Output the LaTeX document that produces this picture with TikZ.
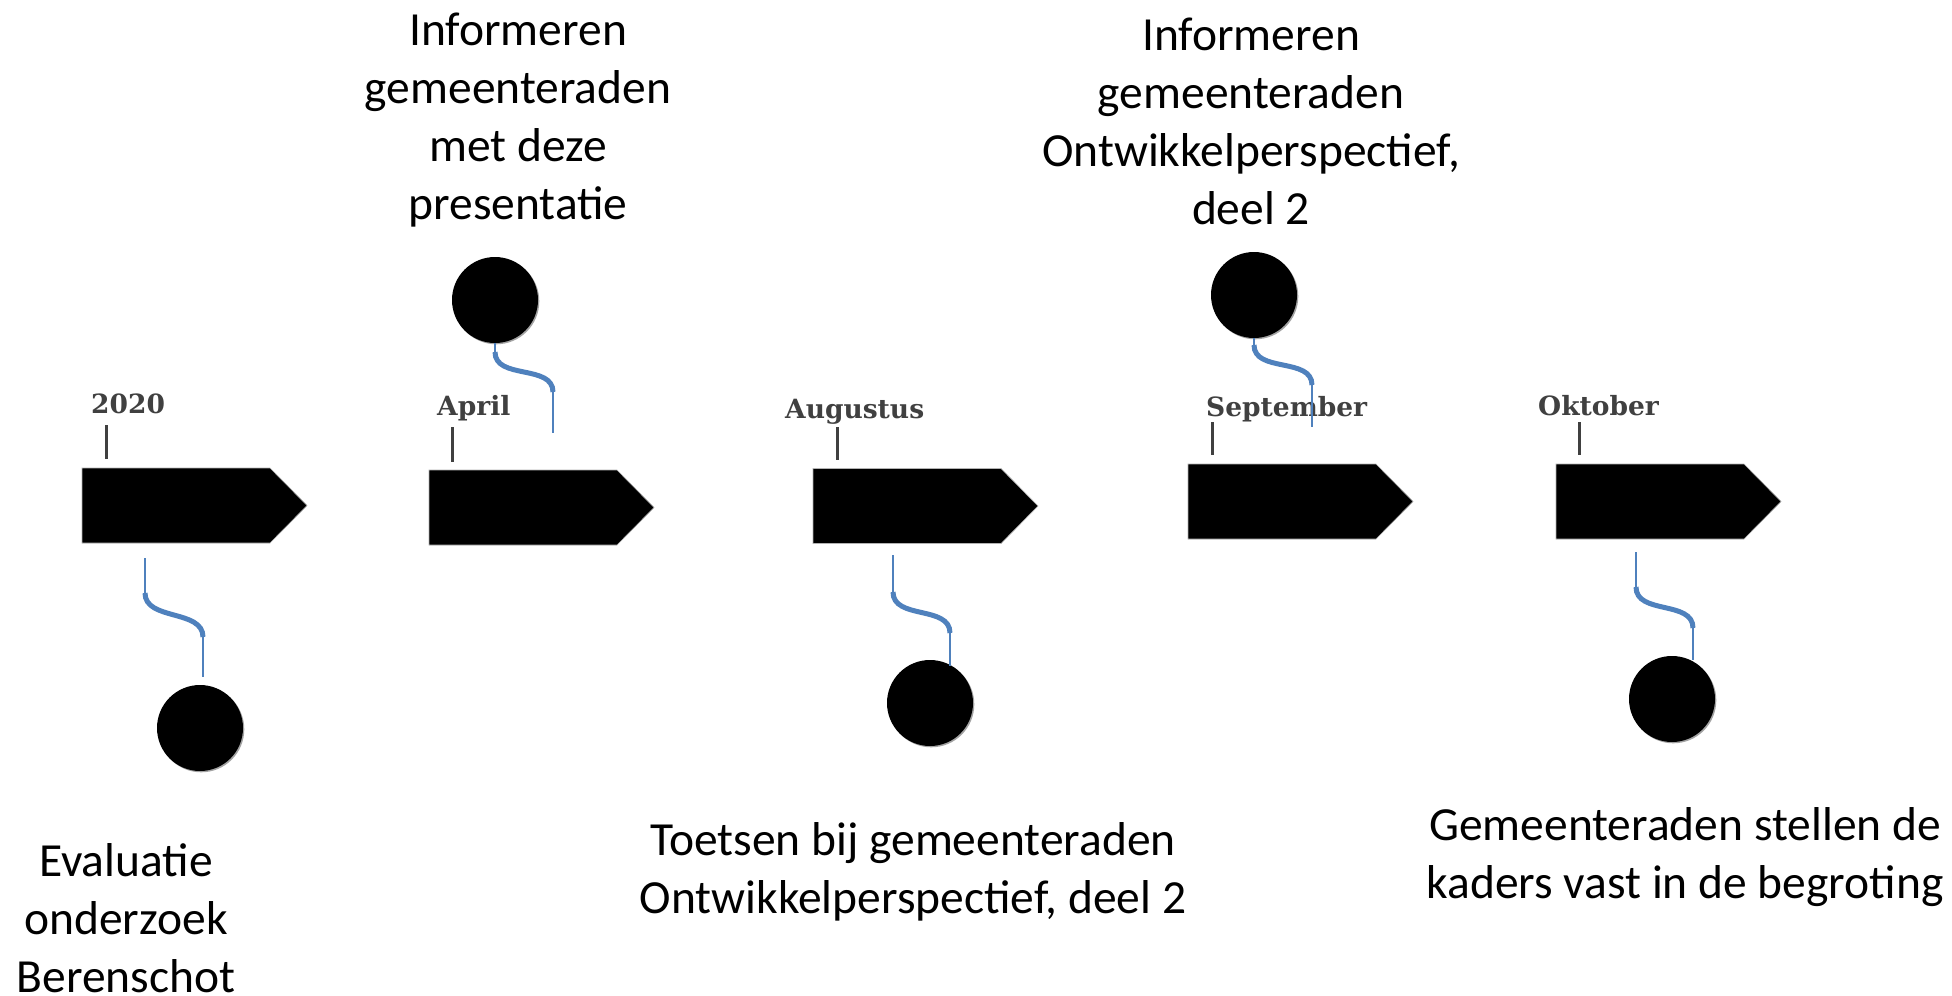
\documentclass[tikz,border=0pt]{standalone}
\usepackage{fontspec}
\setmainfont{Carlito}
\newfontfamily\lblfont{DejaVu Serif}
\usetikzlibrary{shadows}
\definecolor{conn}{RGB}{79,129,189}
\definecolor{lbl}{RGB}{64,64,64}
\tikzset{
  arrowbox/.style={fill=black, draw=gray!60, line width=0.6pt},
  pics/tlarrow/.style={code={\path[arrowbox] (0,0) -- (188,0) -- (225,37.5) -- (188,75) -- (0,75) -- cycle;}},
  dot/.style={circle, fill=black, minimum size=86pt, inner sep=0pt,
    drop shadow={shadow xshift=1.3pt, shadow yshift=-1.3pt, fill=black!45, opacity=0.8}},
  ticktl/.style={draw=lbl, line width=3pt},
  month/.style={font=\lblfont\bfseries\fontsize{26.5}{30}\selectfont, text=lbl, anchor=base west, inner sep=0pt},
  note/.style={font=\fontsize{47.5}{58}\selectfont, align=center, anchor=north, inner sep=0pt},
  thinc/.style={draw=conn, line width=2pt},
  thickc/.style={draw=conn, line width=5pt},
}
\begin{document}
\begin{tikzpicture}[x=1pt,y=-1pt]
\useasboundingbox[fill=white] (0,0) rectangle (1952,996);

% arrows
\pic (a1) at (82,468) {tlarrow};
\pic (a2) at (429,470) {tlarrow};
\pic (a3) at (813,468.5) {tlarrow};
\pic (a4) at (1188,464) {tlarrow};
\pic (a5) at (1556,464) {tlarrow};

% ticks
\draw[ticktl] (106,425) -- (106,459);
\draw[ticktl] (452,427) -- (452,462);
\draw[ticktl] (837,427) -- (837,460);
\draw[ticktl] (1212,422) -- (1212,455);
\draw[ticktl] (1579,422) -- (1579,455);

% month labels
\node[month] (l1) at (91,413) {2020};
\node[month] (l2) at (437,415) {April};
\node[month] (l3) at (785,418) {Augustus};
\node[month] (l4) at (1206,416) {September};
\node[month] (l5) at (1538,415) {Oktober};

% circles
\node[dot] (d1) at (200,728) {};
\node[dot] (d2) at (495,300) {};
\node[dot] (d3) at (930,703) {};
\node[dot] (d4) at (1254,295) {};
\node[dot] (d5) at (1672,699) {};

% connector coordinates
\coordinate (s1) at (145,558); \coordinate (m1) at (145,593); \coordinate (n1) at (203,637); \coordinate (e1) at (203,677);
\coordinate (s2) at (495,343); \coordinate (m2) at (495,352); \coordinate (n2) at (553,392); \coordinate (e2) at (553,433);
\coordinate (s3) at (893,555); \coordinate (m3) at (893,592); \coordinate (n3) at (950,633); \coordinate (e3) at (950,666);
\coordinate (s4) at (1254,338); \coordinate (m4) at (1254,345); \coordinate (n4) at (1312,385); \coordinate (e4) at (1312,427);
\coordinate (s5) at (1636,552); \coordinate (m5) at (1636,587); \coordinate (n5) at (1693,628); \coordinate (e5) at (1693,660);

\foreach \i in {1,...,5}{
  \draw[thinc] (s\i) -- (m\i);
  \draw[thickc] (m\i) .. controls +(0,28) and +(0,-28) .. (n\i);
  \draw[thinc] (n\i) -- (e\i);
}

% texts
\node[note] (t1) at (126,836) {\strut Evaluatie\\onderzoek\\Berenschot};
\node[note] (t2) at (518,4.4) {\strut Informeren\\gemeenteraden\\met deze\\presentatie};
\node[note] (t3) at (913,814.4) {\strut Toetsen bij gemeenteraden\\Ontwikkelperspectief, deel 2};
\node[note] (t4) at (1251,9.4) {\strut Informeren\\gemeenteraden\\Ontwikkelperspectief,\\deel 2};
\node[note] (t5) at (1685,799.4) {\strut Gemeenteraden stellen de\\kaders vast in de begroting};
\end{tikzpicture}
\end{document}
